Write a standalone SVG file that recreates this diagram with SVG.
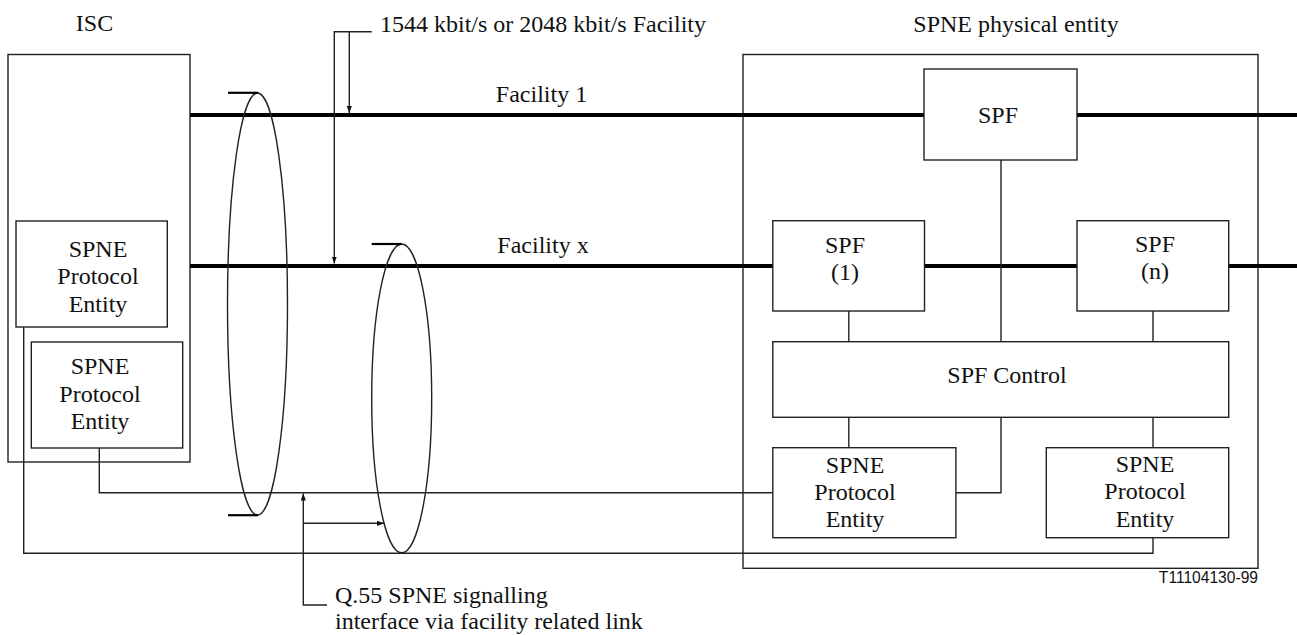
<svg xmlns="http://www.w3.org/2000/svg" width="1297" height="635" viewBox="0 0 1297 635">
<style>
  .bg { fill: #ffffff; }
  .box { fill: none; stroke: #222; stroke-width: 1.4; }
  .thin { fill: none; stroke: #222; stroke-width: 1.4; }
  .thick { fill: none; stroke: #000; stroke-width: 4; }
  .tick { fill: none; stroke: #000; stroke-width: 2.2; }
  .lbl { font-family: "Liberation Serif", "Times New Roman", serif; font-size: 24px; fill: #111; }
  .mid { text-anchor: middle; }
  .code { font-family: "Liberation Sans", Arial, sans-serif; font-size: 15.6px; fill: #111; text-anchor: end; }
</style>
<defs>
  <marker id="ah" markerUnits="userSpaceOnUse" markerWidth="7" markerHeight="6" refX="7" refY="3" orient="auto">
    <path d="M0,0.4 L7,3 L0,5.6 z" fill="#111"/>
  </marker>
</defs>
<rect class="bg" x="0" y="0" width="1297" height="635"/>

<!-- Titles -->
<text class="lbl mid" x="94.5" y="31">ISC</text>
<text class="lbl mid" x="1016" y="32">SPNE physical entity</text>
<text class="lbl" x="380" y="31.7">1544 kbit/s or 2048 kbit/s Facility</text>
<text class="lbl mid" x="541.5" y="102">Facility 1</text>
<text class="lbl mid" x="543" y="253">Facility x</text>
<text class="lbl" x="335" y="603">Q.55 SPNE signalling</text>
<text class="lbl" x="335" y="628.5">interface via facility related link</text>
<text class="code" x="1258" y="583">T11104130-99</text>

<!-- Container nodes -->
<g id="isc">
  <rect class="box" x="8" y="54.5" width="182" height="407.5"/>
</g>
<g id="spne-physical-entity">
  <rect class="box" x="743" y="54.5" width="515" height="513.8"/>
</g>

<!-- Connectors -->
<g id="connectors">
  <!-- facility lines -->
  <line class="thick" x1="190" y1="115" x2="924" y2="115"/>
  <line class="thick" x1="1077" y1="115" x2="1297" y2="115"/>
  <line class="thick" x1="190" y1="266" x2="772.8" y2="266"/>
  <line class="thick" x1="924.5" y1="266" x2="1077" y2="266"/>
  <line class="thick" x1="1228.7" y1="266" x2="1297" y2="266"/>
  <!-- internal SPNE links -->
  <line class="thin" x1="1001" y1="160" x2="1001" y2="341.7"/>
  <line class="thin" x1="848.8" y1="311" x2="848.8" y2="341.7"/>
  <line class="thin" x1="1153" y1="311" x2="1153" y2="341.7"/>
  <line class="thin" x1="848.8" y1="417.3" x2="848.8" y2="447.7"/>
  <line class="thin" x1="1153" y1="417.3" x2="1153" y2="447.7"/>
  <polyline class="thin" points="1001,417.3 1001,492.7 955.9,492.7"/>
  <!-- signalling links -->
  <polyline class="thin" points="99.3,448 99.3,492.7 772.8,492.7"/>
  <polyline class="thin" points="23.7,327 23.7,553.3 1153,553.3 1153,537.7"/>
  <!-- annotation arrows -->
  <polyline class="thin" points="371.7,31.7 334.3,31.7 334.3,263.5" marker-end="url(#ah)"/>
  <line class="thin" x1="349.3" y1="31.7" x2="349.3" y2="113" marker-end="url(#ah)"/>
  <polyline class="thin" points="327,605 303.3,605 303.3,493.5" marker-end="url(#ah)"/>
  <line class="thin" x1="303.3" y1="523.3" x2="384" y2="523.3" marker-end="url(#ah)"/>
  <!-- link bundles -->
  <ellipse class="thin" cx="257.5" cy="304" rx="30" ry="211"/>
  <line class="tick" x1="228" y1="92.8" x2="258" y2="92.8"/>
  <line class="tick" x1="228" y1="515.2" x2="258" y2="515.2"/>
  <ellipse class="thin" cx="401.7" cy="398.4" rx="30" ry="154.4"/>
  <line class="tick" x1="371.7" y1="244" x2="401.7" y2="244"/>
</g>

<!-- Nodes -->
<g id="isc-spne-pe-1">
  <rect class="box" x="16" y="221" width="151.3" height="106" fill="#fff"/>
  <text class="lbl mid" x="98" y="256.5">SPNE</text>
  <text class="lbl mid" x="98" y="284">Protocol</text>
  <text class="lbl mid" x="98" y="311.5">Entity</text>
</g>
<g id="isc-spne-pe-2">
  <rect class="box" x="31.3" y="342" width="151.4" height="106"/>
  <text class="lbl mid" x="100" y="374">SPNE</text>
  <text class="lbl mid" x="100" y="401.5">Protocol</text>
  <text class="lbl mid" x="100" y="429">Entity</text>
</g>
<g id="spf">
  <rect class="box" x="924" y="69" width="153" height="91"/>
  <text class="lbl mid" x="998" y="123">SPF</text>
</g>
<g id="spf-1">
  <rect class="box" x="772.8" y="220.7" width="151.7" height="90.3"/>
  <text class="lbl mid" x="845" y="253">SPF</text>
  <text class="lbl mid" x="845" y="280">(1)</text>
</g>
<g id="spf-n">
  <rect class="box" x="1077" y="220.7" width="151.7" height="90.3"/>
  <text class="lbl mid" x="1155" y="252">SPF</text>
  <text class="lbl mid" x="1155" y="279">(n)</text>
</g>
<g id="spf-control">
  <rect class="box" x="772.8" y="341.7" width="455.9" height="75.6"/>
  <text class="lbl mid" x="1007" y="383.3">SPF Control</text>
</g>
<g id="spne-pe-a">
  <rect class="box" x="772.8" y="447.7" width="183.1" height="90"/>
  <text class="lbl mid" x="855" y="473">SPNE</text>
  <text class="lbl mid" x="855" y="500">Protocol</text>
  <text class="lbl mid" x="855" y="527">Entity</text>
</g>
<g id="spne-pe-b">
  <rect class="box" x="1046.3" y="447.7" width="182.4" height="90"/>
  <text class="lbl mid" x="1145" y="471.5">SPNE</text>
  <text class="lbl mid" x="1145" y="499">Protocol</text>
  <text class="lbl mid" x="1145" y="526.5">Entity</text>
</g>
</svg>
